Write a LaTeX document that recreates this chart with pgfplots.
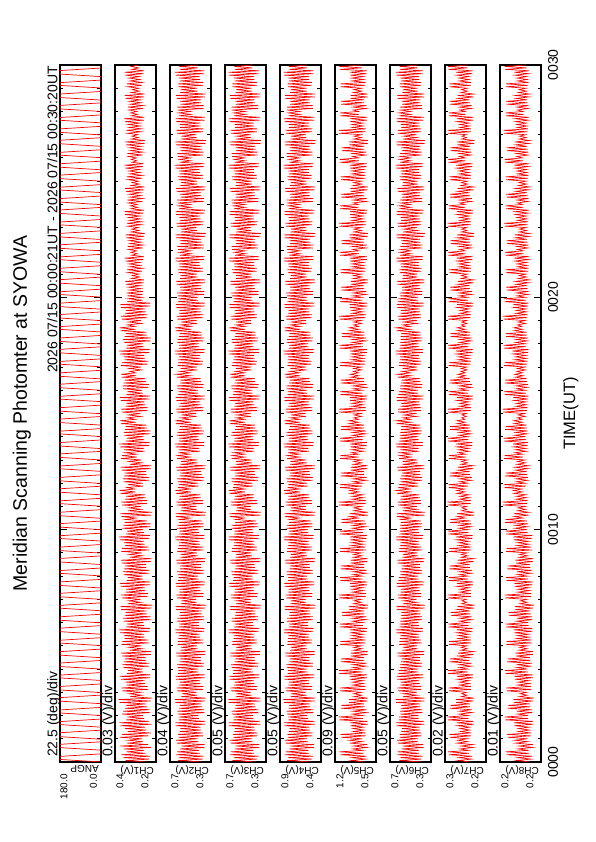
\documentclass[border=0pt]{standalone}
\usepackage{graphicx}
\usepackage{pgfplots}
\pgfplotsset{compat=1.18}
\usepackage{pgfplotstable}
\usepackage{fontspec}
\setmainfont{Liberation Sans}
\newcommand\fs[1]{\fontsize{#1}{#1}\selectfont}
% photometer channels in mV, one row every 3.75 s (1/16 min)
\pgfplotstableread{
c1 c2 c3 c4 c5 c6 c7 c8
232 412 398 552 702 402 231 181
358 597 628 781 934 609 279 208
219 404 387 537 676 391 226 179
371 588 611 771 921 598 276 206
214 397 372 528 668 381 224 177
383 611 649 802 1126 627 314 227
241 426 415 566 719 416 236 183
352 603 642 792 1142 623 318 229
251 431 421 571 731 418 238 184
366 582 603 759 907 586 272 205
208 391 364 517 655 373 220 176
388 571 598 748 896 577 268 203
226 389 366 519 652 374 221 176
349 608 646 796 958 624 283 210
257 437 430 579 740 425 241 186
342 612 655 803 968 631 281 211
262 445 437 588 742 429 242 186
391 593 617 774 1109 603 311 224
223 399 383 535 679 391 228 180
379 596 621 779 1121 606 313 226
209 402 381 533 681 392 227 179
346 585 609 763 898 589 269 204
236 417 406 558 711 409 233 182
361 579 604 758 903 584 271 204
243 421 412 561 719 411 234 183
387 616 659 806 947 635 282 212
205 386 355 509 645 366 217 175
394 618 662 811 952 639 284 213
221 384 358 512 648 368 218 175
355 593 619 770 1148 616 319 230
249 433 424 575 733 421 239 185
347 591 614 767 1157 612 321 231
256 438 429 582 737 424 240 185
378 599 631 781 916 598 276 206
214 390 372 521 660 383 224 177
373 602 636 784 911 601 274 207
217 393 377 524 663 386 225 178
362 588 603 765 1114 596 310 225
233 411 402 553 702 404 232 181
356 584 598 761 1106 592 309 224
238 416 408 559 708 407 233 182
393 618 664 812 972 641 286 213
210 385 356 510 646 365 218 175
398 621 668 816 978 644 287 214
204 381 352 506 641 362 216 174
331 572 593 746 884 574 266 202
263 447 441 591 750 433 244 187
336 567 589 742 889 571 265 201
268 452 446 596 756 437 246 188
377 604 642 792 1129 622 315 227
226 402 388 540 684 393 228 179
382 609 647 797 1134 627 316 228
229 399 385 537 687 396 229 180
352 590 612 767 912 599 274 206
244 423 414 563 722 411 235 182
357 586 609 764 917 596 273 205
247 426 418 566 726 414 236 183
386 612 654 804 956 631 282 211
215 389 366 518 658 374 220 176
391 615 658 808 961 635 283 212
212 387 362 515 655 371 219 176
349 597 621 776 1145 618 318 229
255 437 429 581 735 423 240 185
344 594 618 772 1149 615 319 230
259 441 433 585 739 427 241 186
371 601 635 783 903 600 274 207
222 398 377 529 669 390 227 179
376 605 639 787 908 603 275 208
219 395 374 526 666 388 226 178
368 584 605 759 1117 591 312 226
238 415 406 560 709 406 234 181
363 581 601 755 1113 588 311 225
241 419 410 563 713 409 235 182
380 609 647 796 940 625 279 209
210 386 359 512 649 368 218 176
385 613 651 800 944 628 280 210
207 383 355 509 645 365 217 175
334 577 597 750 897 578 268 203
261 445 438 589 747 430 243 187
339 574 593 746 894 574 267 202
265 449 442 593 751 433 244 187
382 602 633 780 1131 612 315 228
221 397 385 537 681 392 227 178
377 598 629 776 1127 609 314 227
224 401 389 540 684 394 228 179
363 594 616 773 929 603 278 207
246 425 413 565 718 413 236 183
368 590 612 769 925 599 277 206
249 428 416 568 722 416 237 184
390 615 660 809 953 637 284 212
218 393 371 524 662 380 223 177
395 619 664 813 957 641 285 213
215 390 368 521 658 377 222 177
354 591 611 766 1134 608 316 228
250 432 422 575 730 419 238 184
349 588 607 762 1138 605 317 229
253 435 425 578 734 421 239 185
367 606 637 786 918 600 274 208
208 393 376 527 668 386 225 177
372 603 633 782 914 597 273 207
211 396 379 530 671 389 226 178
363 587 600 761 1097 593 307 222
233 411 401 553 702 401 231 180
358 583 596 757 1101 590 308 223
236 414 404 556 705 404 232 181
384 613 651 801 968 633 281 210
205 382 352 506 641 362 216 175
389 617 655 805 972 637 282 211
202 379 349 503 638 359 215 174
346 575 591 748 891 573 265 201
267 452 446 596 756 437 246 187
341 571 587 744 886 569 264 200
270 455 449 599 759 440 247 188
379 607 640 790 1147 621 319 230
231 401 386 538 681 398 229 180
384 611 644 794 1152 625 320 231
228 398 383 535 678 395 228 179
359 589 609 770 924 598 273 206
242 421 416 561 720 409 234 182
354 585 605 766 920 594 272 205
245 424 419 564 724 412 235 183
387 612 656 805 954 632 283 211
216 389 363 517 655 373 220 177
392 616 660 809 958 636 284 212
213 386 360 514 652 370 219 176
351 597 620 774 1127 617 314 227
255 436 428 580 737 422 240 185
346 593 616 770 1131 613 315 228
258 439 431 583 740 425 241 186
369 600 633 782 902 598 273 206
221 397 378 530 667 390 226 179
374 604 637 786 906 602 274 207
218 394 375 527 664 387 225 178
367 584 603 758 1122 590 313 226
237 415 408 559 708 405 233 181
362 580 599 754 1118 586 312 225
240 418 411 562 711 408 234 182
381 608 648 797 943 625 280 209
209 385 357 511 649 367 218 176
386 612 652 801 947 629 281 210
206 382 354 508 646 364 217 175
333 579 595 751 896 579 267 203
260 445 437 588 746 429 242 186
338 576 591 747 892 575 266 202
263 448 440 591 749 432 243 187
383 603 635 781 1128 612 314 228
220 397 384 536 679 390 227 178
378 599 631 777 1124 608 313 227
223 400 387 539 682 393 228 179
362 593 615 772 933 602 277 207
247 426 414 566 717 414 236 183
367 589 611 768 929 598 276 206
250 429 417 569 720 417 237 184
391 616 661 810 950 638 285 213
219 394 372 525 663 381 223 178
396 620 665 814 954 642 286 214
216 391 369 522 660 378 222 177
355 591 612 767 1137 609 317 228
251 433 424 576 732 419 239 186
350 587 608 763 1141 606 318 229
254 436 427 579 735 422 240 187
376 606 638 787 916 604 276 211
213 398 381 534 675 391 227 186
371 602 634 783 912 600 275 210
210 395 378 531 672 388 226 185
364 588 601 762 1108 595 310 230
232 409 398 549 697 399 230 187
359 584 597 758 1104 591 309 229
297 503 512 662 812 498 251 195
383 612 652 802 965 632 282 212
206 383 353 507 643 363 217 184
388 616 656 806 969 636 283 213
203 380 350 504 640 360 216 183
345 576 592 749 892 574 265 206
266 451 445 595 755 436 245 190
340 572 588 745 888 570 264 205
269 454 448 598 758 439 246 191
378 606 641 791 1151 622 320 234
233 402 387 539 682 399 230 187
383 610 645 795 1155 626 321 235
230 399 384 536 679 396 229 186
360 590 610 771 922 599 273 209
241 420 415 562 720 410 234 188
355 586 606 767 918 595 272 208
244 423 418 565 723 413 235 189
388 613 657 806 956 633 283 213
300 495 502 652 802 500 252 196
393 617 661 810 960 637 284 214
305 498 505 655 805 503 253 197
350 596 621 775 1129 618 315 231
254 437 429 581 738 423 240 189
345 592 617 771 1133 614 316 232
257 440 432 584 741 426 241 190
370 601 634 783 903 599 273 208
222 398 379 531 668 389 226 186
375 605 638 787 907 603 274 209
219 395 376 528 665 386 225 185
368 585 604 759 1120 591 312 230
236 414 407 558 709 404 233 187
363 581 600 755 1116 587 311 229
239 417 410 561 712 407 234 188
382 609 649 798 942 626 280 210
210 386 358 512 650 368 219 185
387 613 653 802 946 630 281 211
207 383 355 509 647 365 218 184
334 579 596 752 895 580 267 207
261 444 438 589 747 428 242 190
339 575 592 748 891 576 266 206
264 447 441 592 750 431 243 191
384 604 634 782 1129 611 315 232
292 503 506 658 806 493 249 195
379 600 630 778 1125 607 314 231
295 506 509 661 809 496 250 196
361 594 616 773 931 603 278 211
246 427 413 567 718 415 236 188
366 590 612 769 927 599 277 210
249 430 416 570 721 418 237 189
390 617 662 811 951 639 285 214
220 395 373 526 664 382 224 186
395 621 666 815 955 643 286 215
217 392 370 523 661 379 223 185
356 592 613 768 1135 611 318 232
250 434 423 577 733 420 239 189
351 588 609 764 1139 607 319 233
253 437 426 580 736 423 240 190
365 607 639 788 917 605 276 211
215 399 383 535 676 393 228 187
370 603 635 784 913 601 275 210
212 396 380 532 673 390 227 186
362 586 601 761 1111 593 311 230
232 412 402 554 703 402 232 187
357 582 597 757 1107 589 310 229
235 415 405 557 706 405 233 188
385 614 653 802 970 634 282 212
298 498 504 655 804 497 251 196
390 618 657 806 974 638 283 213
301 501 507 658 807 500 252 197
348 574 590 747 891 572 265 206
268 453 447 597 757 438 246 191
343 570 586 743 887 568 264 205
271 456 450 600 760 441 247 192
380 608 642 792 1146 620 319 234
230 400 385 537 680 397 229 187
385 612 646 796 1150 624 320 235
227 397 382 534 677 394 228 186
358 588 608 769 925 597 273 209
243 422 417 563 722 408 235 188
353 584 604 765 921 593 272 208
246 425 420 566 725 411 236 189
386 611 655 804 955 630 283 213
217 390 364 519 657 375 221 185
391 615 659 808 959 634 284 214
214 387 361 516 654 372 220 184
353 598 623 777 1126 620 315 231
257 439 431 583 740 425 241 189
348 594 619 773 1130 616 316 232
260 442 434 586 743 428 242 190
372 602 636 784 901 600 274 208
223 400 376 528 670 388 226 186
377 606 640 788 905 604 275 209
220 397 373 525 667 385 225 185
369 583 606 760 1123 592 313 231
239 417 406 557 707 403 233 187
364 580 602 756 1119 588 312 230
242 420 409 560 710 406 234 188
379 607 646 795 945 623 279 210
296 499 505 654 803 496 250 195
384 611 650 799 949 627 280 211
299 502 508 657 806 499 251 196
332 580 598 753 897 581 268 207
263 447 440 591 749 431 243 190
337 577 594 749 893 577 267 206
266 450 443 594 752 434 244 191
385 601 632 779 1132 614 316 232
228 405 393 544 688 398 230 187
380 597 628 775 1128 610 315 231
225 402 390 541 685 395 229 186
364 595 617 774 928 604 279 211
245 424 412 564 715 412 235 188
369 591 613 770 924 600 278 210
248 427 415 567 718 415 236 189
392 618 663 813 949 640 286 215
219 392 370 523 660 379 222 185
397 622 667 817 953 644 287 216
216 389 367 520 657 376 221 184
355 593 610 765 1140 608 317 232
252 431 421 574 730 417 238 189
350 589 606 761 1144 604 318 233
255 434 424 577 733 420 239 190
367 605 636 785 919 600 274 210
211 397 381 532 673 390 227 186
372 601 632 781 915 596 273 209
208 394 378 529 670 387 226 185
363 589 603 763 1099 595 308 228
234 410 400 552 701 400 231 187
358 585 599 759 1103 591 309 229
237 413 403 555 704 403 232 188
387 615 652 800 966 636 282 212
300 494 501 651 801 499 251 196
392 619 656 804 970 640 283 213
303 497 504 654 804 502 252 197
347 577 594 749 894 576 266 206
264 450 444 594 754 435 244 190
342 573 590 745 890 572 265 205
267 453 447 597 757 438 245 191
381 604 639 789 1143 619 318 233
234 403 389 541 683 400 230 187
386 608 643 793 1147 623 319 234
231 400 386 538 680 397 229 186
361 591 607 770 923 598 272 209
240 419 414 560 724 407 234 188
356 587 603 766 919 594 271 208
243 422 417 563 727 410 235 189
384 610 653 803 958 629 282 213
214 388 362 516 653 372 220 185
389 614 657 807 962 633 283 214
211 385 359 513 650 369 219 184
349 599 619 778 1131 621 316 231
258 440 432 584 741 426 241 189
344 595 615 774 1135 617 317 232
261 443 435 587 744 429 242 190
347 600 635 785 905 601 275 207
259 394 375 529 671 387 225 185
352 604 639 789 909 605 276 208
256 391 372 526 668 384 224 184
336 578 597 750 1108 582 309 227
268 415 408 559 711 405 233 186
341 582 601 754 1112 586 310 228
271 418 411 562 714 408 234 187
355 608 647 796 941 627 280 209
252 387 357 510 647 366 218 183
360 612 651 800 945 631 281 210
249 384 354 507 644 363 217 182
323 580 594 751 899 578 267 204
276 445 438 589 745 430 242 188
318 576 590 747 895 574 266 203
279 448 441 592 748 433 243 189
344 595 626 773 1122 605 313 228
261 404 391 543 686 395 229 185
349 599 630 777 1126 609 314 229
258 401 388 540 683 392 228 184
333 587 609 766 922 594 276 206
271 426 414 565 716 415 236 187
338 591 613 770 926 598 277 207
274 429 417 568 719 418 237 188
358 616 660 810 952 636 284 211
254 393 371 525 662 381 223 184
363 620 664 814 956 640 285 212
251 390 368 522 659 378 222 183
322 584 604 758 1133 600 317 229
290 494 500 652 800 494 250 194
327 588 608 762 1137 604 318 230
293 497 503 655 803 497 251 195
341 598 631 779 906 595 273 206
257 396 379 528 665 388 226 185
346 602 635 783 910 599 274 207
254 393 376 525 662 385 225 184
331 579 593 753 1105 586 308 226
265 413 404 555 704 403 232 186
336 583 597 757 1109 590 309 227
268 416 407 558 707 406 233 187
353 613 656 805 962 633 282 210
249 384 354 508 645 364 217 183
358 617 660 809 966 637 283 211
246 381 351 505 642 361 216 182
327 576 592 748 893 574 266 203
280 449 444 593 752 433 244 188
322 572 588 744 889 570 265 202
283 452 447 596 755 436 245 189
346 605 641 792 1144 621 319 231
265 401 386 538 679 396 229 186
351 609 645 796 1148 625 320 232
262 398 383 535 676 393 228 185
335 582 603 762 918 592 272 206
269 421 416 562 721 409 234 187
340 586 607 766 922 596 273 207
272 424 419 565 724 412 235 188
360 612 654 804 956 632 283 210
253 389 365 517 656 374 220 184
365 616 658 808 960 636 284 211
250 386 362 514 653 371 219 183
326 589 612 766 1128 608 315 228
286 498 503 656 805 498 251 195
331 593 616 770 1132 612 316 229
289 501 506 659 808 501 252 196
343 600 633 782 900 598 273 206
260 397 378 530 666 389 226 185
348 604 637 786 904 602 274 207
257 394 375 527 663 386 225 184
332 576 595 750 1113 583 310 227
267 415 407 558 708 404 233 186
337 580 599 754 1117 587 311 228
270 418 410 561 711 407 234 187
356 608 648 797 944 625 280 209
250 385 357 511 648 367 218 183
361 612 652 801 948 629 281 210
247 382 354 508 645 364 217 182
325 579 595 750 895 579 267 204
278 446 438 589 747 429 242 188
320 575 591 746 891 575 266 203
281 449 441 592 750 432 243 189
345 594 627 773 1118 603 312 228
262 403 390 542 684 396 229 185
350 598 631 777 1122 607 313 229
259 400 387 539 681 393 228 184
334 586 607 764 924 593 275 206
273 427 415 566 718 414 236 187
339 590 611 768 928 597 276 207
276 430 418 569 721 417 237 188
359 617 661 811 953 639 285 211
255 394 372 526 663 381 223 184
364 621 665 815 957 643 286 212
252 391 369 523 660 378 222 183
320 583 605 759 1136 602 317 230
292 496 503 654 802 496 250 195
325 587 609 763 1140 606 318 231
295 499 506 657 805 499 251 196
342 599 630 780 910 596 274 207
258 399 382 534 674 392 227 185
347 603 634 784 914 600 275 208
255 396 379 531 671 389 226 184
329 578 592 753 1101 585 308 226
264 411 401 553 703 401 231 186
334 582 596 757 1105 589 309 227
267 414 404 556 706 404 232 187
354 614 652 801 967 634 282 210
247 382 352 506 642 362 216 183
359 618 656 805 971 638 283 211
244 379 349 503 639 359 215 182
326 575 591 747 891 573 265 203
283 452 446 596 756 437 246 189
321 571 587 743 887 569 264 202
286 455 449 599 759 440 247 190
348 607 640 790 1147 621 319 232
266 401 386 538 681 398 229 186
353 611 644 794 1151 625 320 233
263 398 383 535 678 395 228 185
337 581 601 762 916 590 271 206
270 421 416 561 721 409 234 187
342 585 605 766 920 594 272 207
273 424 419 564 724 412 235 188
361 612 656 805 954 632 283 210
251 389 363 517 655 373 220 184
366 616 660 809 958 636 284 211
248 386 360 514 652 370 219 183
324 589 612 766 1127 609 314 228
288 497 501 653 803 497 250 194
329 593 616 770 1131 613 315 229
291 500 504 656 806 500 251 195
340 600 633 782 902 598 273 206
256 397 378 530 667 390 226 185
345 604 637 786 906 602 274 207
253 394 375 527 664 387 225 184
330 576 595 750 1114 582 311 227
266 415 408 559 708 405 233 186
335 580 599 754 1118 586 312 228
269 418 411 562 711 408 234 187
357 608 648 797 943 625 280 209
250 385 357 511 649 367 218 183
362 612 652 801 947 629 281 210
247 382 354 508 646 364 217 182
324 580 595 751 896 579 267 204
277 445 437 588 746 429 242 188
319 576 591 747 892 575 266 203
280 448 440 591 749 432 243 189
346 595 627 773 1120 604 312 228
263 403 390 542 685 396 229 185
351 599 631 777 1124 608 313 229
260 400 387 539 682 393 228 184
333 585 607 764 925 594 275 206
274 426 414 566 717 414 236 187
338 589 611 768 929 598 276 207
277 429 417 569 720 417 237 188
359 616 661 810 950 638 285 211
253 394 372 525 663 381 223 184
364 620 665 814 954 642 286 212
250 391 369 522 660 378 222 183
321 583 604 759 1137 602 317 230
281 443 434 586 743 428 242 188
326 587 608 763 1141 606 318 231
284 440 431 583 740 425 241 189
}\chdata
\pgfplotsset{
  panel/.style={
    scale only axis, width=697pt, height=41pt,
    at={(80pt,#1)}, anchor=south west,
    xmin=0, xmax=30,
    xtick={0,10,20,30}, xticklabels={},
    minor xtick={0,1,...,30},
    ytick=\empty,
    tick align=inside,
    major tick length=7pt, minor tick length=3.5pt,
    tick style={black, line width=0.9pt},
    axis line style={line width=1.6pt},
    axis background/.style={fill=white},
  },
  sig/.style={red, line width=0.65pt, mark=none},
}
\begin{document}
\rotatebox{90}{%
\begin{tikzpicture}
\path[use as bounding box] (0,0) rectangle (842pt,595pt);
% ANGP (deg)
\begin{axis}[panel=494pt, ymin=0, ymax=180, minor ytick={0,22.5,...,180}]
\addplot[red, line width=0.7pt, mark=none] coordinates {
(0.00,0)(0.11,180)(0.24,180)(0.35,0)(0.51,0)(0.62,180)(0.76,180)(0.87,0)(0.98,0)(1.09,180)
(1.26,180)(1.37,0)(1.50,0)(1.61,180)(1.74,180)(1.85,0)(2.00,0)(2.11,180)(2.24,180)(2.35,0)
(2.51,0)(2.62,180)(2.77,180)(2.88,0)(2.99,0)(3.10,180)(3.25,180)(3.36,0)(3.51,0)(3.62,180)
(3.74,180)(3.85,0)(4.00,0)(4.11,180)(4.26,180)(4.37,0)(4.49,0)(4.60,180)(4.75,180)(4.86,0)
(5.01,0)(5.12,180)(5.24,180)(5.35,0)(5.50,0)(5.61,180)(5.76,180)(5.87,0)(5.99,0)(6.10,180)
(6.25,180)(6.36,0)(6.51,0)(6.62,180)(6.74,180)(6.85,0)(7.00,0)(7.11,180)(7.26,180)(7.37,0)
(7.49,0)(7.60,180)(7.75,180)(7.86,0)(8.01,0)(8.12,180)(8.24,180)(8.35,0)(8.50,0)(8.61,180)
(8.76,180)(8.87,0)(8.99,0)(9.10,180)(9.25,180)(9.36,0)(9.51,0)(9.62,180)(9.74,180)(9.85,0)
(10.00,0)(10.11,180)(10.26,180)(10.37,0)(10.49,0)(10.60,180)(10.75,180)(10.86,0)(11.01,0)(11.12,180)
(11.24,180)(11.35,0)(11.50,0)(11.61,180)(11.76,180)(11.87,0)(11.99,0)(12.10,180)(12.25,180)(12.36,0)
(12.51,0)(12.62,180)(12.74,180)(12.85,0)(13.00,0)(13.11,180)(13.26,180)(13.37,0)(13.49,0)(13.60,180)
(13.75,180)(13.86,0)(14.01,0)(14.12,180)(14.24,180)(14.35,0)(14.50,0)(14.61,180)(14.76,180)(14.87,0)
(14.99,0)(15.10,180)(15.25,180)(15.36,0)(15.51,0)(15.62,180)(15.74,180)(15.85,0)(16.00,0)(16.11,180)
(16.26,180)(16.37,0)(16.49,0)(16.60,180)(16.75,180)(16.86,0)(17.01,0)(17.12,180)(17.24,180)(17.35,0)
(17.50,0)(17.61,180)(17.76,180)(17.87,0)(17.99,0)(18.10,180)(18.25,180)(18.36,0)(18.51,0)(18.62,180)
(18.74,180)(18.85,0)(19.00,0)(19.11,180)(19.26,180)(19.37,0)(19.49,0)(19.60,180)(19.75,180)(19.86,0)
(20.01,0)(20.12,180)(20.24,180)(20.35,0)(20.50,0)(20.61,180)(20.76,180)(20.87,0)(20.99,0)(21.10,180)
(21.25,180)(21.36,0)(21.51,0)(21.62,180)(21.74,180)(21.85,0)(22.00,0)(22.11,180)(22.26,180)(22.37,0)
(22.49,0)(22.60,180)(22.75,180)(22.86,0)(23.01,0)(23.12,180)(23.24,180)(23.35,0)(23.50,0)(23.61,180)
(23.76,180)(23.87,0)(23.99,0)(24.10,180)(24.25,180)(24.36,0)(24.51,0)(24.62,180)(24.74,180)(24.85,0)
(25.00,0)(25.11,180)(25.26,180)(25.37,0)(25.49,0)(25.60,180)(25.75,180)(25.86,0)(26.01,0)(26.12,180)
(26.24,180)(26.35,0)(26.50,0)(26.61,180)(26.76,180)(26.87,0)(26.99,0)(27.10,180)(27.25,180)(27.36,0)
(27.51,0)(27.62,180)(27.74,180)(27.85,0)(28.00,0)(28.11,180)(28.26,180)(28.37,0)(28.49,0)(28.60,180)
(28.75,180)(28.86,0)(29.01,0)(29.12,180)(29.24,180)(29.35,0)(29.50,0)(29.61,180)(29.76,180)(29.87,0)
(30.00,0)};
\end{axis}
\begin{axis}[panel=439pt, ymin=180, ymax=420, minor ytick={180,210,...,420}]
\addplot[sig] table[x expr=\coordindex/16, y=c1] {\chdata};
\end{axis}
\begin{axis}[panel=384pt, ymin=340, ymax=660, minor ytick={340,380,...,660}]
\addplot[sig] table[x expr=\coordindex/16, y=c2] {\chdata};
\end{axis}
\begin{axis}[panel=329pt, ymin=300, ymax=700, minor ytick={300,350,...,700}]
\addplot[sig] table[x expr=\coordindex/16, y=c3] {\chdata};
\end{axis}
\begin{axis}[panel=274pt, ymin=450, ymax=850, minor ytick={450,500,...,850}]
\addplot[sig] table[x expr=\coordindex/16, y=c4] {\chdata};
\end{axis}
\begin{axis}[panel=219pt, ymin=500, ymax=1220, minor ytick={500,590,...,1220}]
\addplot[sig] table[x expr=\coordindex/16, y=c5] {\chdata};
\end{axis}
\begin{axis}[panel=164pt, ymin=300, ymax=700, minor ytick={300,350,...,700}]
\addplot[sig] table[x expr=\coordindex/16, y=c6] {\chdata};
\end{axis}
\begin{axis}[panel=109pt, ymin=170, ymax=330, minor ytick={170,190,...,330}]
\addplot[sig] table[x expr=\coordindex/16, y=c7] {\chdata};
\end{axis}
\begin{axis}[panel=54pt, ymin=160, ymax=240, minor ytick={160,170,...,240}]
\addplot[sig] table[x expr=\coordindex/16, y=c8] {\chdata};
\end{axis}
% texts
\node[anchor=base, inner sep=0, font=\fs{19.5}] at (428.5pt,568pt) {Meridian Scanning Photomter at SYOWA};
\node[anchor=base east, inner sep=0, font=\fs{14}] at (776pt,537.5pt) {2026 07/15 00:00:21UT - 2026 07/15 00:30:20UT};
\node[anchor=base west, inner sep=0, font=\fs{14}] at (85pt,537.5pt) {22.5 (deg)/div};
\node[anchor=east, inner sep=0, font=\fs{10}] at (68pt,531pt) {180.0};
\node[anchor=east, inner sep=0, font=\fs{10}] at (68pt,501.5pt) {0.0};
\node[rotate=90, anchor=south west, inner sep=0, font=\fs{10}] at (77pt,496pt) {ANGP};
\foreach \k/\hi/\lo/\u in {1/0.4/0.2/0.03, 2/0.7/0.3/0.04, 3/0.7/0.3/0.05, 4/0.9/0.4/0.05, 5/1.2/0.5/0.09, 6/0.7/0.3/0.05, 7/0.3/0.2/0.02, 8/0.2/0.2/0.01}{
  \pgfmathsetmacro{\yb}{494-55*\k}
  \node[anchor=base west, inner sep=0, font=\fs{14}] at (85pt,\yb pt+43.5pt) {\u\ (V)/div};
  \node[anchor=east, inner sep=0, font=\fs{10}] at (68pt,\yb pt+36pt) {\hi};
  \node[anchor=east, inner sep=0, font=\fs{10}] at (68pt,\yb pt+11pt) {\lo};
  \node[rotate=90, anchor=south west, inner sep=0, font=\fs{10}] at (77pt,\yb pt+2pt) {CH\k(V)};
}
\node[anchor=north, inner sep=0, font=\fs{14}] at (80pt,47pt) {0000};
\node[anchor=north, inner sep=0, font=\fs{14}] at (312.33pt,47pt) {0010};
\node[anchor=north, inner sep=0, font=\fs{14}] at (544.67pt,47pt) {0020};
\node[anchor=north, inner sep=0, font=\fs{14}] at (777pt,47pt) {0030};
\node[anchor=north, inner sep=0, font=\fs{16.5}] at (428.5pt,32pt) {TIME(UT)};
\end{tikzpicture}}
\end{document}
